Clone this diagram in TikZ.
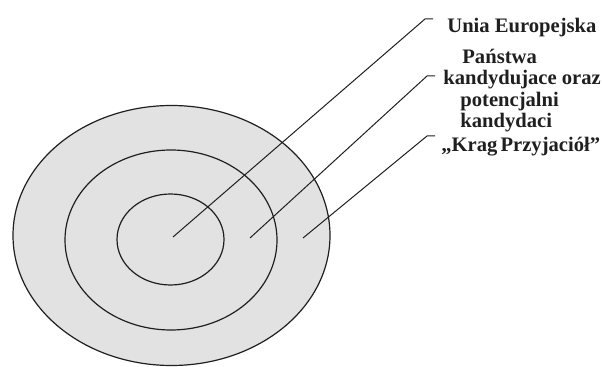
\documentclass[tikz,border=0pt]{standalone}
\usepackage{fontspec}
\setmainfont{Liberation Serif}
\usetikzlibrary{positioning}
\definecolor{ringfill}{HTML}{E2E2E2}
\definecolor{ink}{HTML}{1F1F1F}
\tikzset{
  ring/.style={draw=ink,fill=ringfill,line width=0.6pt},
  leader/.style={draw=ink,line width=0.5pt},
  lbl/.style={font=\fontsize{10.3}{10.6}\selectfont\bfseries,inner sep=0pt,
              align=left,text=ink},
}
\begin{document}
\begin{tikzpicture}[x=0.5pt,y=-0.5pt]
  \useasboundingbox (0,0) rectangle (603,367);
  % Rings
  \filldraw[ring] (171.5,235.5) ellipse [x radius=158.5,y radius=130];
  \filldraw[ring] (171,240) ellipse [x radius=106,y radius=90];
  \filldraw[ring] (170.5,239.5) ellipse [x radius=53.5,y radius=45.5];
  % Labels
  \node[lbl,anchor=base west] (ue) at (447,33) {Unia Europejska};
  \node[lbl,anchor=north west] (kand) at (443,49)
    {\hspace*{9.5pt}Państwa\\kandydujace oraz\\\hspace*{8.5pt}potencjalni\\
     \hspace*{8.5pt}kandydaci};
  \node[lbl,anchor=base west] (krag) at (441,152)
    {„Krag\hspace{-1pt} Przyjaciół”};
  % Leader points
  \coordinate (ueIn) at (173,237);
  \coordinate (ueKnee) at (425,19);
  \coordinate (ueEnd) at (433,19);
  \coordinate (kandIn) at (250,238);
  \coordinate (kandKnee) at (427,76);
  \coordinate (kandEnd) at (435,76);
  \coordinate (kragIn) at (303,238);
  \coordinate (kragKnee) at (427,136);
  \coordinate (kragEnd) at (435,136);
  % Leaders
  \draw[leader] (ueIn) -- (ueKnee) -- (ueEnd);
  \draw[leader] (kandIn) -- (kandKnee) -- (kandEnd);
  \draw[leader] (kragIn) -- (kragKnee) -- (kragEnd);
\end{tikzpicture}
\end{document}
